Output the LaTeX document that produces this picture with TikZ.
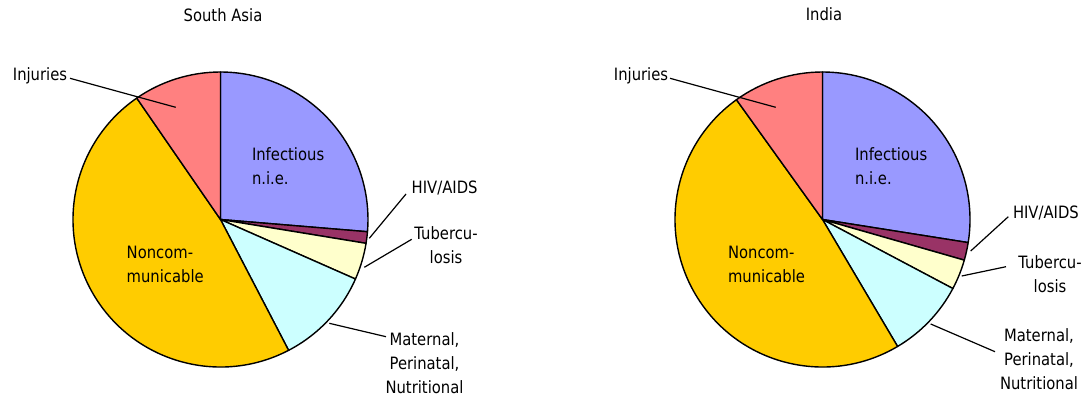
\documentclass[tikz,border=0pt]{standalone}
\usepackage{fontspec}
\setmainfont{DejaVu Sans}[FakeStretch=0.87]
\definecolor{cInf}{HTML}{9999FF}
\definecolor{cHiv}{HTML}{993366}
\definecolor{cTb}{HTML}{FFFFCC}
\definecolor{cMat}{HTML}{CCFFFF}
\definecolor{cNon}{HTML}{FFCC00}
\definecolor{cInj}{HTML}{FF8080}
\begin{document}
\begin{tikzpicture}[x=1pt,y=1pt,
  font=\fontsize{17}{24}\selectfont,
  slice/.style={draw=black,line width=1.4pt,line join=round},
  lbl/.style={inner sep=0pt,outer sep=0pt},
  leader/.style={draw=black,line width=1.2pt}]
\useasboundingbox (0,0) rectangle (1092,-396);
\def\R{147.5pt}
% ---------- left pie: South Asia ----------
\coordinate (L) at (220.5,-219.5);
\filldraw[slice,fill=cInf] (L) -- ++(90:\R) arc[start angle=90,end angle=-4.75,radius=\R] -- cycle;
\filldraw[slice,fill=cHiv] (L) -- ++(-4.75:\R) arc[start angle=-4.75,end angle=-9.3,radius=\R] -- cycle;
\filldraw[slice,fill=cTb] (L) -- ++(-9.3:\R) arc[start angle=-9.3,end angle=-23.8,radius=\R] -- cycle;
\filldraw[slice,fill=cMat] (L) -- ++(-23.8:\R) arc[start angle=-23.8,end angle=-62.5,radius=\R] -- cycle;
\filldraw[slice,fill=cNon] (L) -- ++(-62.5:\R) arc[start angle=-62.5,end angle=-235.4,radius=\R] -- cycle;
\filldraw[slice,fill=cInj] (L) -- ++(124.6:\R) arc[start angle=124.6,end angle=90,radius=\R] -- cycle;
\node[lbl] (tL) at (223,-15) {South Asia};
\node[lbl,align=left,anchor=west] (infL) at (252,-166.5) {Infectious\\n.i.e.};
\node[lbl,align=left,anchor=west] (nonL) at (126.7,-264.7) {Noncom-\\municable};
\node[lbl] (injL) at (40,-76) {Injuries};
\node[lbl,anchor=west] (hivL) at (411.7,-188.3) {HIV/AIDS};
\node[lbl,align=center] (tbL) at (446,-245) {Tubercu-\\losis};
\node[lbl,align=center] (matL) at (424.5,-363) {Maternal,\\Perinatal,\\Nutritional};
\coordinate (injLa) at (70,-78.3);   \coordinate (injLb) at (175.7,-107.3);
\coordinate (hivLa) at (406,-194);   \coordinate (hivLb) at (369.3,-238.3);
\coordinate (tbLa) at (411.7,-239.3); \coordinate (tbLb) at (364.3,-267.3);
\coordinate (matLa) at (386,-336.7); \coordinate (matLb) at (329.3,-323.3);
\draw[leader] (injLa) -- (injLb);
\draw[leader] (hivLa) -- (hivLb);
\draw[leader] (tbLa) -- (tbLb);
\draw[leader] (matLa) -- (matLb);
% ---------- right pie: India ----------
\coordinate (Rc) at (822.5,-219.5);
\filldraw[slice,fill=cInf] (Rc) -- ++(90:\R) arc[start angle=90,end angle=-9.0,radius=\R] -- cycle;
\filldraw[slice,fill=cHiv] (Rc) -- ++(-9.0:\R) arc[start angle=-9.0,end angle=-16,radius=\R] -- cycle;
\filldraw[slice,fill=cTb] (Rc) -- ++(-16:\R) arc[start angle=-16,end angle=-27.9,radius=\R] -- cycle;
\filldraw[slice,fill=cMat] (Rc) -- ++(-27.9:\R) arc[start angle=-27.9,end angle=-59.4,radius=\R] -- cycle;
\filldraw[slice,fill=cNon] (Rc) -- ++(-59.4:\R) arc[start angle=-59.4,end angle=-234.3,radius=\R] -- cycle;
\filldraw[slice,fill=cInj] (Rc) -- ++(125.7:\R) arc[start angle=125.7,end angle=90,radius=\R] -- cycle;
\node[lbl] (tR) at (824,-14) {India};
\node[lbl,align=left,anchor=west] (infR) at (855,-166.5) {Infectious\\n.i.e.};
\node[lbl,align=left,anchor=west] (nonR) at (728,-264.7) {Noncom-\\municable};
\node[lbl] (injR) at (641,-76) {Injuries};
\node[lbl,anchor=west] (hivR) at (1013,-213.3) {HIV/AIDS};
\node[lbl,align=center] (tbR) at (1050,-274) {Tubercu-\\losis};
\node[lbl,align=center] (matR) at (1039,-359) {Maternal,\\Perinatal,\\Nutritional};
\coordinate (injRa) at (670,-78.3);   \coordinate (injRb) at (775.7,-107.3);
\coordinate (hivRa) at (1008.3,-216.7); \coordinate (hivRb) at (970.7,-251);
\coordinate (tbRa) at (1006,-266.7);  \coordinate (tbRb) at (961.7,-276);
\coordinate (matRa) at (995,-351.7);  \coordinate (matRb) at (930.7,-324);
\draw[leader] (injRa) -- (injRb);
\draw[leader] (hivRa) -- (hivRb);
\draw[leader] (tbRa) -- (tbRb);
\draw[leader] (matRa) -- (matRb);
\end{tikzpicture}
\end{document}
